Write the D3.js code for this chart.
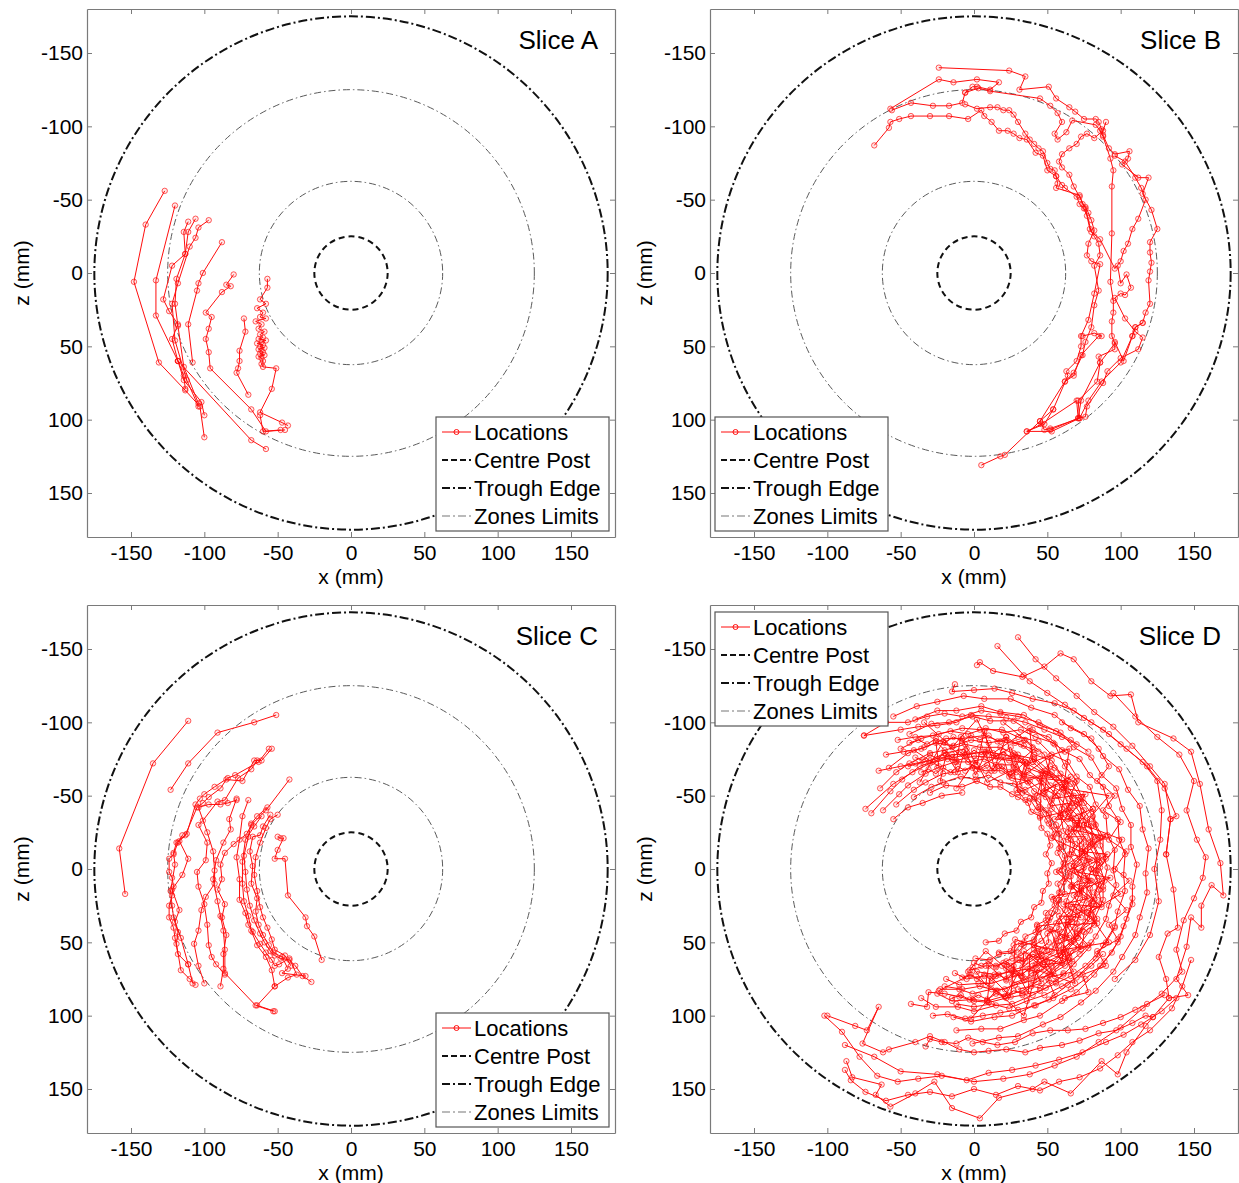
<!DOCTYPE html>
<html>
<head>
<meta charset="utf-8">
<script src="https://cdn.jsdelivr.net/npm/d3@7"></script>
<style>
  body { margin: 0; background: #fff; }
  svg text { font-family: "Liberation Sans", Arial, sans-serif; fill: #000; }
</style>
</head>
<body>
<svg id="chart" width="1239" height="1183"></svg>
<script>
var axisDomain = [-180, 180];
var tickValues = [-150, -100, -50, 0, 50, 100, 150];
var centrePostRadius = 25;
var troughEdgeRadius = 175;
var zoneLimitRadii = [62.5, 125];
var legendLabels = ['Locations', 'Centre Post', 'Trough Edge', 'Zones Limits'];
var sliceNames = ['Slice A', 'Slice B', 'Slice C', 'Slice D'];

// each slice is a list of tracks, each track a list of [x, z] in mm
var sliceA = [
  [[-127,-56],[-140,-33],[-148,6],[-131,61],[-113,80],[-103,91],[-100,112]],
  [[-120,-46],[-133,5],[-133,29],[-118,60],[-114,73],[-102,88],[-100,97]],
  [[-111,-35],[-114,-28],[-113,-13],[-122,-5],[-128,18],[-124,26],[-118,35],[-122,45],[-118,60],[-114,70],[-113,79]],
  [[-106,-37],[-111,-28],[-113,-13],[-119,4],[-120,21],[-118,36],[-114,64],[-104,89]],
  [[-97,-36],[-104,-31],[-106,-24],[-110,-18],[-118,7],[-122,21],[-120,46],[-112,73],[-104,91]],
  [[-88,-21],[-101,0],[-104,7],[-105,12],[-111,35],[-108,61]],
  [[-80,1],[-85,8],[-82,9],[-88,13],[-99,27],[-95,30],[-97,38],[-99,45],[-97,54],[-96,65],[-68,93],[-58,108],[-45,107]],
  [[-73,31],[-72,40],[-76,53],[-76,60],[-77,65],[-78,68],[-70,83]],
  [[-57,4],[-57,10],[-62,18],[-58,21],[-64,24],[-60,27],[-62,30],[-58,31],[-65,33],[-61,35],[-63,38],[-59,40],[-62,42],[-60,44],[-63,45],[-58,46],[-61,47],[-64,48],[-60,49],[-62,50],[-59,51],[-63,52],[-61,53],[-60,54],[-62,55],[-59,56],[-63,57],[-61,58],[-60,60],[-61,62],[-60,64],[-51,65],[-54,79],[-62,95],[-47,102],[-43,104]],
  [[-62,97],[-60,108],[-48,107]],
  [[-118,60],[-68,114],[-58,120]]
];

var sliceB = [
  [[-68,-87],[-58,-99],[-57,-103],[-51,-105],[-43,-107],[-30,-107],[-17,-107],[-4,-105],[5,-111],[7,-107],[12,-103],[17,-97],[23,-97],[27,-95],[31,-92],[36,-91],[42,-82],[47,-80],[50,-70],[56,-66],[57,-61],[56,-58],[72,-53],[74,-47],[76,-45],[78,-41],[80,-36],[82,-29],[78,-20],[77,-12],[80,-8],[86,-6],[82,14],[78,32],[73,43],[73,50],[70,60],[63,67],[64,70],[54,93],[45,101],[48,107],[52,106],[72,99],[71,87],[84,74],[86,61],[85,57],[96,52],[96,47],[102,60],[108,43],[110,37],[115,34]],
  [[-57,-112],[-24,-132],[-14,-130],[2,-132],[17,-130],[11,-125],[2,-127],[-1,-127],[-6,-123],[-8,-116],[-17,-114],[-28,-114],[-43,-116],[-56,-111]],
  [[-24,-140],[24,-138],[35,-134],[31,-125],[51,-127],[56,-119],[65,-113],[69,-110],[75,-105],[83,-105],[85,-103],[87,-98],[88,-94],[92,-85],[96,-81],[106,-83],[105,-78],[101,-74],[112,-65],[119,-65],[115,-54],[121,-43],[125,-30],[120,-21],[120,-14],[121,-7],[120,-1],[119,5],[120,21],[117,27],[115,34],[110,37],[108,43],[100,61],[87,74],[78,87],[72,99],[53,108],[36,108],[48,103],[54,93]],
  [[-6,-123],[3,-126],[11,-124],[45,-119],[52,-114],[57,-109],[60,-103],[55,-95],[57,-91],[63,-96],[67,-104],[83,-101],[86,-97],[88,-93],[93,-78],[95,-70],[94,-59],[94,-27],[93,6],[95,19],[95,27],[94,33],[94,43],[96,48],[86,61],[73,87],[71,99],[70,87],[46,103],[36,108]],
  [[-6,-115],[2,-112],[11,-113],[16,-113],[20,-111],[24,-111],[27,-108],[30,-103],[35,-95],[38,-91],[41,-88],[44,-85],[47,-83],[50,-75],[52,-71],[55,-70],[56,-66],[60,-60],[62,-58],[70,-52],[72,-47],[75,-44],[77,-39],[79,-30],[82,-25],[85,-20],[86,-12],[82,-5],[85,12],[82,22],[80,37],[76,47],[74,56],[68,68],[62,74]],
  [[90,-103],[88,-97],[82,-92],[77,-95],[73,-93],[70,-88],[65,-85],[60,-81],[58,-76],[60,-72],[65,-67],[68,-59],[72,-52],[76,-44],[80,-28],[86,-23],[96,-3],[100,-8],[102,-15],[105,-20],[108,-30],[112,-37],[117,-50],[114,-58],[110,-65],[103,-76],[96,-80]],
  [[98,-5],[100,7],[104,1],[107,10],[103,15],[100,14],[96,17],[103,31],[110,40],[115,44],[112,52],[100,58],[91,67],[88,75],[77,91],[76,98],[71,99],[52,107]],
  [[5,131],[18,125],[21,124],[45,101],[62,74],[68,70],[73,56],[85,43],[87,43],[82,41],[74,43]]
];

var sliceC = [
  [[-111,-101],[-135,-72],[-158,-14],[-154,17]],
  [[-51,-105],[-66,-100],[-91,-93],[-111,-72],[-123,-54]],
  [[-54,-82],[-61,-74],[-66,-74],[-74,-60],[-85,-61],[-89,-55],[-97,-49],[-101,-45],[-105,-42],[-113,-23],[-119,-18],[-121,-11],[-120,-3],[-123,15],[-122,25],[-121,33],[-118,43],[-119,51],[-116,69],[-110,75],[-106,79]],
  [[-56,-82],[-63,-73],[-79,-64],[-84,-62],[-93,-56],[-100,-51],[-103,-48],[-106,-44],[-112,-24],[-117,-19],[-111,-7],[-115,4],[-122,14],[-117,28],[-120,36],[-116,47],[-111,65],[-108,78]],
  [[-64,-74],[-68,-68],[-77,-62],[-86,-47],[-91,-46],[-101,-33],[-104,-30],[-98,-18],[-99,-6],[-105,2],[-104,12],[-100,24],[-98,38],[-97,52],[-95,60],[-92,65],[-86,72]],
  [[-78,-47],[-84,-45],[-89,-44],[-97,-44],[-104,-42],[-98,-25],[-94,-12],[-93,1],[-93,10],[-99,19],[-102,28],[-104,42],[-107,51],[-104,66],[-100,78]],
  [[-42,-61],[-58,-40],[-68,-30],[-71,-24],[-80,-17],[-86,-11],[-89,-3],[-88,7],[-91,14],[-86,24],[-88,33],[-85,45],[-87,58],[-87,68],[-89,80]],
  [[-78,-48],[-83,-34],[-82,-27],[-87,-18],[-92,-6],[-94,7],[-91,22],[-89,32],[-87,42],[-86,55],[-86,71],[-65,93],[-53,97]],
  [[-70,-47],[-74,-36],[-76,-20],[-78,-8],[-76,7],[-76,21],[-72,30],[-70,38],[-67,43],[-62,51],[-58,57],[-54,62],[-52,66],[-49,65],[-42,61],[-37,72],[-43,74],[-52,80]],
  [[-57,-42],[-64,-36],[-68,-31],[-70,-22],[-73,-9],[-72,2],[-71,14],[-69,25],[-66,35],[-62,44],[-59,50],[-55,56],[-52,59],[-48,61],[-42,62],[-38,66],[-33,73],[-27,77]],
  [[-55,-37],[-60,-29],[-62,-23],[-67,-22],[-69,-12],[-67,-2],[-68,10],[-64,20],[-65,29],[-63,38],[-60,45],[-56,52],[-53,57],[-47,60],[-43,68],[-47,71],[-31,73]],
  [[-50,-37],[-55,-34],[-58,-28],[-62,-18],[-65,-8],[-66,4],[-64,15],[-62,26],[-60,33],[-57,40],[-54,48],[-52,55],[-45,59],[-41,66]],
  [[-50,-22],[-48,-21],[-46,-21],[-50,-13],[-52,-7],[-45,-7],[-43,18],[-31,33],[-30,39],[-25,46],[-20,62]],
  [[-61,-36],[-66,-29],[-72,-20],[-74,-5],[-74,10],[-73,22],[-70,32],[-68,42],[-64,52],[-58,60],[-54,69],[-52,80],[-64,93],[-52,97]],
  [[-115,-23],[-118,-18],[-121,-10],[-124,-7],[-124,2],[-122,6],[-121,12],[-122,18],[-124,25],[-124,33],[-121,40],[-120,47],[-118,58],[-111,65]]
];

var sliceD = [
  [[-30,-52],[-19,-57],[-8,-56],[2,-60],[11,-56],[18,-56],[26,-51],[30,-49],[37,-45],[39,-39],[45,-36],[46,-28],[50,-24],[52,-16],[49,-10],[53,-4],[50,3],[51,10],[47,15],[46,23],[41,26],[39,33],[32,36],[29,42],[21,44],[17,49],[8,50]],
  [[-41,-49],[-29,-56],[-21,-59],[-9,-63],[1,-61],[10,-64],[18,-59],[28,-58],[33,-52],[41,-49],[44,-42],[51,-38],[53,-29],[58,-24],[58,-14],[62,-9],[60,1],[62,7],[58,16],[58,21],[53,30],[51,35],[44,41],[41,48],[32,51],[27,57],[17,58],[11,62],[1,61]],
  [[-53,-44],[-41,-54],[-33,-59],[-21,-65],[-13,-66],[-1,-69],[8,-67],[19,-67],[26,-62],[36,-60],[41,-53],[49,-49],[53,-41],[59,-36],[61,-26],[66,-20],[65,-10],[69,-4],[66,5],[67,12],[63,22],[62,28],[56,37],[53,42],[46,49],[41,52],[32,59],[26,61],[15,66],[8,66],[-3,69]],
  [[-62,-40],[-51,-51],[-45,-57],[-33,-65],[-25,-69],[-13,-73],[-4,-73],[7,-75],[15,-71],[27,-71],[34,-65],[44,-62],[49,-54],[57,-50],[60,-41],[67,-35],[68,-25],[72,-19],[72,-8],[75,-1],[72,10],[72,17],[68,27],[66,33],[60,43],[56,48],[48,56],[43,60],[33,67],[26,69],[15,73],[7,73],[-5,75],[-13,71]],
  [[-70,-38],[-57,-53],[-49,-61],[-37,-70],[-28,-73],[-15,-78],[-6,-78],[7,-80],[16,-76],[29,-75],[36,-69],[47,-65],[52,-57],[61,-52],[65,-42],[71,-36],[73,-25],[78,-18],[77,-7],[80,0],[77,11],[77,19],[72,30],[70,37],[62,47],[58,52],[49,61],[43,65],[32,72],[24,74],[12,78],[3,78],[-10,79],[-19,75]],
  [[-64,-55],[-53,-66],[-44,-72],[-30,-79],[-20,-81],[-6,-85],[4,-83],[18,-83],[28,-78],[41,-75],[48,-67],[58,-62],[63,-53],[71,-47],[74,-36],[80,-29],[81,-17],[84,-9],[83,3],[85,11],[80,23],[79,31],[72,42],[68,49],[59,59],[53,64],[42,72],[34,76],[21,82],[12,82],[-1,85],[-10,82],[-23,82]],
  [[-58,-69],[-45,-79],[-34,-83],[-19,-89],[-8,-89],[7,-91],[18,-87],[32,-85],[41,-78],[53,-74],[59,-65],[69,-59],[74,-48],[81,-41],[83,-30],[88,-22],[88,-9],[91,-1],[88,12],[88,21],[82,34],[79,42],[71,53],[65,60],[54,70],[46,75],[33,83],[23,86],[9,90],[-1,89],[-15,90],[-25,85]],
  [[-50,-82],[-36,-89],[-24,-92],[-8,-96],[4,-95],[19,-95],[30,-90],[44,-87],[53,-78],[64,-73],[70,-63],[79,-56],[83,-44],[90,-36],[91,-23],[96,-13],[95,1],[97,11],[92,25],[90,34],[83,46],[78,54],[68,65],[61,72],[49,81],[40,86],[26,92],[15,93],[0,97],[-11,94],[-26,94],[-36,88]],
  [[-44,-92],[-29,-99],[-17,-100],[-1,-104],[11,-101],[27,-101],[38,-94],[51,-90],[60,-81],[72,-75],[79,-64],[88,-56],[92,-43],[98,-34],[99,-20],[103,-10],[102,4],[103,15],[98,29],[96,39],[88,52],[83,61],[72,72],[64,79],[51,89],[41,93],[26,100],[14,101],[-2,104],[-14,101]],
  [[-40,-102],[-25,-108],[-12,-108],[5,-111],[18,-107],[34,-105],[45,-98],[59,-93],[68,-83],[80,-76],[87,-64],[97,-55],[101,-41],[107,-30],[107,-15],[111,-3],[108,12],[108,24],[102,39],[98,50],[89,63],[82,72],[70,84],[60,90],[45,100],[34,103],[18,109],[5,109],[-12,110]],
  [[-55,-104],[-39,-111],[-25,-114],[-7,-118],[7,-116],[25,-116],[39,-110],[55,-105],[66,-96],[80,-89],[88,-77],[99,-68],[105,-54],[113,-43],[115,-27],[119,-14],[117,3],[118,16],[113,33],[110,45],[101,60],[95,70],[83,83],[73,91],[59,101],[47,106],[30,114],[17,115],[-1,119]],
  [[-75,-91],[-50,-95],[-38,-97],[-25,-98],[-12,-100],[-2,-105],[10,-104],[22,-103],[35,-100],[48,-95],[60,-90],[70,-85]],
  [[-74,-41],[-55,-58],[-42,-66],[-30,-72],[-18,-75],[-5,-78],[8,-80],[20,-78],[32,-75]],
  [[-65,-67],[-50,-70],[-40,-72],[-30,-74],[-20,-79],[-5,-82]],
  [[-55,-34],[-45,-42],[-35,-45],[-22,-50],[-8,-52]],
  [[30,-158],[42,-143],[56,-130],[70,-118],[82,-107],[95,-97],[108,-84],[120,-70],[130,-58],[134,-34],[131,-10]],
  [[16,-152],[34,-132],[38,-128],[50,-120],[62,-112],[75,-103],[88,-95],[100,-85],[115,-73],[125,-60],[128,-40],[127,-20],[123,0],[126,22],[120,45],[110,62],[96,75]],
  [[2,-139],[4,-141],[13,-135],[33,-131],[48,-138],[59,-147],[68,-143],[80,-128],[93,-118],[107,-119],[112,-100],[136,-89],[148,-80],[154,-58],[160,-27],[168,-4],[170,18],[162,11],[155,25],[155,40],[148,33],[145,53],[138,75],[146,86],[133,88],[122,101],[117,107],[104,125],[98,140],[87,131],[66,153],[48,145],[40,150],[17,156],[4,170],[-15,163],[-27,145],[-40,153],[-57,162],[-67,154],[-63,147],[-83,142],[-87,131]],
  [[-13,-126],[-15,-121],[0,-122],[14,-123],[26,-120],[40,-116],[55,-113],[68,-108],[80,-100],[92,-92],[104,-82],[118,-70],[130,-55],[138,-36],[134,-34],[131,-10],[136,14],[139,40],[132,44],[126,60],[131,75],[133,88]],
  [[95,-120],[110,-104],[125,-90],[140,-78],[150,-60],[145,-40],[152,-20],[158,-8],[156,6],[150,20],[143,35],[138,55],[142,70],[128,85],[115,95],[100,108],[85,118],[70,128],[55,134],[38,140],[20,143],[0,145],[-25,140],[-50,138],[-68,128],[-88,120]],
  [[-100,100],[-81,107],[-73,110],[-65,94],[-76,119],[-62,125],[-58,123],[-40,118],[-30,114],[-20,118],[-10,123],[0,125],[10,124],[22,123],[35,125],[45,122],[60,120],[72,117],[85,112],[97,110],[108,105],[117,100],[122,101]],
  [[-33,121],[-30,116],[-22,118],[-12,119],[-4,115],[6,118],[16,120],[28,118],[40,112],[52,110],[64,110],[76,109],[88,105],[100,101],[110,96],[118,92],[130,86]],
  [[-88,137],[-84,144],[-74,152],[-60,158],[-45,154],[-30,152],[-15,155],[0,150],[15,154],[30,148],[45,151],[58,145],[72,142],[86,136],[98,127],[108,118],[120,110],[135,95],[142,80],[148,62]],
  [[-102,100],[-90,111],[-78,128],[-66,141],[-52,145],[-38,143],[-22,141],[-5,144],[10,139],[26,137],[42,134],[58,130],[74,125],[90,118],[102,113],[114,106],[128,97],[138,88]],
  [[-43,92],[-32,94],[-31,84],[-20,85],[-10,87],[0,90],[10,91],[22,88],[33,86],[45,83],[56,78],[66,73],[76,66],[84,58],[90,50],[96,40]],
  [[-28,100],[-18,99],[-6,102],[6,100],[18,98],[30,96],[42,93],[54,88],[66,82],[76,75],[86,66],[94,57],[100,46],[104,34],[108,20]],
  [[-75,-91],[-60,-100],[-45,-100],[-32,-104],[-20,-106],[-8,-104],[5,-108],[18,-106],[30,-104],[44,-100],[56,-94],[66,-88],[78,-80]],
  [[40,-95],[55,-85],[62,-70],[70,-60],[65,-48],[75,-40],[70,-30],[82,-22],[74,-12],[86,-4],[76,6],[88,14],[78,24],[84,34],[70,44],[78,52],[62,60],[68,70],[50,74],[55,86]],
  [[20,-100],[35,-88],[48,-78],[52,-64],[60,-56],[68,-50],[62,-38],[72,-30],[64,-20],[76,-12],[66,-2],[80,8],[68,18],[74,28],[64,36],[70,46],[55,52],[60,64],[40,66],[46,78],[30,82]],
  [[60,-100],[75,-92],[85,-82],[92,-70],[84,-60],[96,-50],[88,-40],[100,-32],[92,-20],[104,-12],[96,0],[106,8],[95,18],[104,28],[92,38],[98,48],[84,56],[90,66],[74,72],[78,84],[62,88]],
  [[-23,-60],[-19,-78],[-11,-66],[-6,-81],[1,-64],[8,-79],[12,-67],[20,-76],[24,-63],[35,-73],[31,-58],[47,-64],[43,-50],[56,-58],[52,-43],[67,-45],[55,-34],[73,-33],[63,-22],[76,-22],[66,-10],[81,-6],[64,1],[79,8],[66,12],[78,20],[61,24],[73,33],[58,32],[65,47],[52,41],[58,56],[41,52],[47,65],[34,56],[33,73],[22,63],[22,76],[10,66],[8,79],[-1,67]],
  [[-41,-81],[-24,-70],[-26,-87],[-12,-73],[-9,-90],[2,-71],[7,-94],[14,-69],[22,-90],[27,-70],[40,-81],[34,-64],[52,-77],[48,-53],[66,-63],[53,-48],[76,-51],[64,-34],[81,-41],[66,-27],[90,-22],[73,-12],[91,-10],[70,2],[93,6],[73,14],[87,26],[66,24],[84,37],[63,38],[73,55],[57,44],[67,63],[44,56],[55,73],[38,60],[37,85],[27,66],[25,87],[11,73],[9,90]],
  [[-12,-55],[1,-74],[9,-59],[27,-68],[30,-52],[46,-59],[45,-35],[66,-40],[53,-21],[75,-11],[56,2],[73,15],[53,19],[67,36],[43,39],[50,55],[28,48],[27,72],[8,56],[-4,70]],
  [[-34,-100],[-15,-83],[2,-102],[13,-79],[38,-96],[40,-73],[65,-82],[61,-55],[92,-50],[75,-30],[101,-20],[84,1],[100,17],[78,30],[92,50],[61,55],[69,78],[43,69],[34,100],[15,83],[-2,102]],
  [[-37,-59],[-21,-87],[2,-68],[25,-83],[33,-63],[64,-60],[59,-37],[86,-21],[68,-2],[84,25],[63,33],[60,64],[37,59],[21,87],[-2,72],[-24,83]],
  [[41,-76],[50,-68],[53,-66],[62,-58],[63,-57],[71,-47],[72,-45],[79,-34],[78,-30],[84,-20],[82,-16],[87,-5],[83,1],[87,8],[82,16],[84,21],[78,30],[79,34],[71,44],[71,47],[63,56],[62,58],[53,66],[51,68],[41,76]],
  [[37,-67],[45,-61],[48,-59],[55,-52],[57,-50],[63,-43],[65,-39],[70,-31],[70,-27],[75,-18],[74,-14],[77,-5],[74,0],[78,8],[73,13],[74,21],[70,26],[69,34],[64,38],[62,46],[56,49],[53,56],[46,59],[42,65]],
  [[31,-56],[35,-54],[41,-48],[44,-46],[49,-40],[51,-37],[56,-30],[57,-27],[61,-19],[61,-15],[64,-7],[62,-3],[65,5],[61,9],[62,17],[58,21],[57,29],[52,33],[50,40],[44,43],[41,50],[34,52],[30,57]],
  [[-60,-78],[-48,-80],[-36,-82],[-26,-86],[-14,-84],[-2,-88],[10,-86],[22,-88],[34,-84],[44,-80]],
  [[-52,-88],[-40,-90],[-28,-91],[-16,-94],[-4,-92],[8,-96],[20,-93],[32,-95],[42,-90],[54,-86],[62,-80]],
  [[-45,-70],[-34,-73],[-22,-76],[-12,-74],[0,-77],[12,-76],[24,-74],[36,-72],[46,-66],[56,-62]],
  [[-20,80],[-8,82],[4,80],[16,83],[28,79],[40,76],[52,72],[62,66],[72,58],[80,50]],
  [[-12,92],[0,94],[12,92],[24,95],[36,90],[48,86],[60,80],[70,74],[80,66],[88,58]],
  [[2,70],[14,72],[26,70],[38,68],[48,62],[58,57],[66,50],[74,42]],
  [[17,-70],[25,-64],[29,-66],[37,-59],[38,-60],[47,-52],[48,-51],[53,-47],[59,-38],[59,-36],[65,-28],[64,-25],[69,-17],[67,-13],[73,-5],[68,1],[72,7],[67,11],[71,17],[64,25],[66,29],[58,36],[58,41],[50,44],[51,50],[43,56],[41,55],[33,63],[31,62],[22,68],[19,66]],
  [[27,-79],[36,-72],[40,-73],[49,-65],[51,-64],[60,-56],[61,-55],[68,-45],[69,-43],[76,-33],[75,-30],[80,-19],[79,-15],[84,-6],[80,0],[84,8],[79,13],[81,22],[75,27],[76,36],[69,40],[68,48],[61,54],[59,59],[50,63],[48,68],[39,71],[35,75],[26,78]],
  [[29,-54],[35,-47],[38,-48],[43,-40],[45,-41],[50,-33],[51,-31],[55,-24],[54,-22],[59,-15],[57,-11],[61,-4],[58,1],[62,5],[57,10],[59,16],[54,21],[55,25],[49,30],[49,35],[43,38],[42,43],[35,46],[34,50],[27,52],[25,56],[17,57]],
  [[52,-70],[55,-69],[63,-60],[66,-58],[73,-49],[75,-45],[81,-36],[82,-31],[86,-22],[86,-16],[90,-7],[86,-1],[89,8],[85,14],[87,24],[81,28],[82,38],[75,43],[74,52],[66,56],[64,62],[56,66],[51,72]],
  [[-40,-76],[-35,-74],[-30,-78],[-25,-75],[-20,-79],[-15,-76],[-10,-80],[-5,-77],[0,-81],[5,-78],[10,-81],[15,-77],[20,-80],[25,-76],[30,-78],[35,-73]],
  [[-36,-66],[-31,-68],[-26,-65],[-21,-69],[-16,-66],[-11,-70],[-6,-67],[-1,-71],[4,-68],[9,-71],[14,-67],[19,-70],[24,-66],[29,-68],[34,-63]],
  [[-44,-86],[-38,-88],[-32,-85],[-26,-89],[-20,-86],[-14,-90],[-8,-87],[-2,-91],[4,-88],[10,-91],[16,-87],[22,-90],[28,-86],[34,-88],[40,-83]],
  [[-8,74],[-3,72],[2,75],[7,72],[12,76],[17,72],[22,75],[27,71],[32,73],[37,68],[42,70],[47,65]],
  [[0,64],[5,66],[10,63],[15,67],[20,64],[25,66],[30,62],[35,63],[40,58],[44,60]],
  [[-15,88],[-9,86],[-3,89],[3,86],[9,89],[15,85],[21,87],[27,83],[33,85],[39,80],[45,81],[51,76],[56,77],[61,71]]
];

var boxSize = 528,
    legendW = 173,
    legendH = 114,
    red = '#ff0d0d';

var panels = [
  {name: sliceNames[0], tracks: sliceA, left: 87, top: 9, legend: 'br'},
  {name: sliceNames[1], tracks: sliceB, left: 710, top: 9, legend: 'bl'},
  {name: sliceNames[2], tracks: sliceC, left: 87, top: 605, legend: 'br'},
  {name: sliceNames[3], tracks: sliceD, left: 710, top: 605, legend: 'tl'}
];

var ringStyles = {
  post: {stroke: '#111', width: 2, dash: '6,4'},
  trough: {stroke: '#111', width: 2, dash: '9,3,2,3'},
  zone: {stroke: '#5a5a5a', width: 1, dash: '7,3,1.5,3'}
};

var svg = d3.select('#chart');

function drawPanel(p) {
  var x = d3.scaleLinear().domain(axisDomain).range([p.left, p.left + boxSize]),
      y = d3.scaleLinear().domain(axisDomain).range([p.top, p.top + boxSize]),
      g = svg.append('g'),
      line = d3.line().x(function(d) { return x(d[0]); }).y(function(d) { return y(d[1]); });

  // reference rings
  var rings = [{r: centrePostRadius, s: ringStyles.post}, {r: troughEdgeRadius, s: ringStyles.trough}]
    .concat(zoneLimitRadii.map(function(r) { return {r: r, s: ringStyles.zone}; }));
  g.selectAll('circle.ring')
    .data(rings)
    .enter().append('circle')
      .attr('class', 'ring')
      .attr('cx', x(0))
      .attr('cy', y(0))
      .attr('r', function(d) { return x(d.r) - x(0); })
      .attr('fill', 'none')
      .attr('stroke', function(d) { return d.s.stroke; })
      .attr('stroke-width', function(d) { return d.s.width; })
      .attr('stroke-dasharray', function(d) { return d.s.dash; });

  // locations
  g.selectAll('path.track')
    .data(p.tracks)
    .enter().append('path')
      .attr('class', 'track')
      .attr('d', line)
      .attr('fill', 'none')
      .attr('stroke', red)
      .attr('stroke-width', 1);
  g.selectAll('g.marks')
    .data(p.tracks)
    .enter().append('g')
    .selectAll('circle')
    .data(function(d) { return d; })
    .enter().append('circle')
      .attr('cx', function(d) { return x(d[0]); })
      .attr('cy', function(d) { return y(d[1]); })
      .attr('r', 2.7)
      .attr('fill', 'rgba(255,0,0,0.08)')
      .attr('stroke', red)
      .attr('stroke-width', 0.85)
      .attr('stroke-opacity', 0.8);

  // axes, ticks inward on all four sides
  var sides = [
    {ax: d3.axisBottom(x), t: 'translate(0,' + (p.top + boxSize) + ')', labels: true},
    {ax: d3.axisLeft(y), t: 'translate(' + p.left + ',0)', labels: true},
    {ax: d3.axisTop(x), t: 'translate(0,' + p.top + ')', labels: false},
    {ax: d3.axisRight(y), t: 'translate(' + (p.left + boxSize) + ',0)', labels: false}
  ];
  sides.forEach(function(s, i) {
    s.ax.tickValues(tickValues).tickSize(-5).tickSizeOuter(0)
      .tickPadding(i === 0 ? 8 : 4)
      .tickFormat(s.labels ? function(v) { return String(v); } : '');
    var a = g.append('g').attr('transform', s.t).call(s.ax);
    a.select('.domain').attr('stroke', '#7a7a7a').attr('stroke-width', 1.2);
    a.selectAll('.tick line').attr('stroke', '#7a7a7a');
    a.selectAll('.tick text')
      .attr('font-family', '"Liberation Sans", Arial, sans-serif')
      .attr('font-size', 21)
      .attr('fill', '#000');
  });

  g.append('text')
    .attr('x', x(0))
    .attr('y', p.top + boxSize + 47)
    .attr('text-anchor', 'middle')
    .attr('font-size', 21)
    .text('x (mm)');
  g.append('text')
    .attr('transform', 'translate(' + (p.left - 58) + ',' + y(0) + ') rotate(-90)')
    .attr('text-anchor', 'middle')
    .attr('font-size', 21)
    .text('z (mm)');

  g.append('text')
    .attr('x', p.left + boxSize - 17)
    .attr('y', p.top + 40)
    .attr('text-anchor', 'end')
    .attr('font-family', 'Lato, "Open Sans", sans-serif')
    .attr('font-size', 26)
    .text(p.name);

  drawLegend(g, p);
}

function drawLegend(g, p) {
  var bx = p.legend === 'br' ? p.left + boxSize - 6 - legendW : p.left + 5,
      by = p.legend === 'tl' ? p.top + 7 : p.top + boxSize - 6 - legendH,
      lg = g.append('g').attr('transform', 'translate(' + bx + ',' + by + ')'),
      samples = [
        {stroke: red, width: 1, dash: null},
        {stroke: '#111', width: 2, dash: '6,3'},
        {stroke: '#111', width: 2, dash: '8,3,2,3'},
        {stroke: '#777', width: 1.2, dash: '8,3,2,3'}
      ];

  lg.append('rect')
    .attr('width', legendW)
    .attr('height', legendH)
    .attr('fill', '#fff')
    .attr('stroke', '#555')
    .attr('stroke-width', 1.2);

  var row = lg.selectAll('g.row')
    .data(legendLabels)
    .enter().append('g')
      .attr('transform', function(d, i) { return 'translate(0,' + (15 + i * 28) + ')'; });
  row.append('line')
    .attr('x1', 6)
    .attr('x2', 35)
    .attr('stroke', function(d, i) { return samples[i].stroke; })
    .attr('stroke-width', function(d, i) { return samples[i].width; })
    .attr('stroke-dasharray', function(d, i) { return samples[i].dash; });
  row.filter(function(d, i) { return i === 0; })
    .append('circle')
      .attr('cx', 20.5)
      .attr('r', 2.5)
      .attr('fill', 'none')
      .attr('stroke', red);
  row.append('text')
    .attr('x', 38)
    .attr('dy', '0.36em')
    .attr('font-size', 22)
    .text(function(d) { return d; });
}

panels.forEach(drawPanel);
</script>
</body>
</html>
